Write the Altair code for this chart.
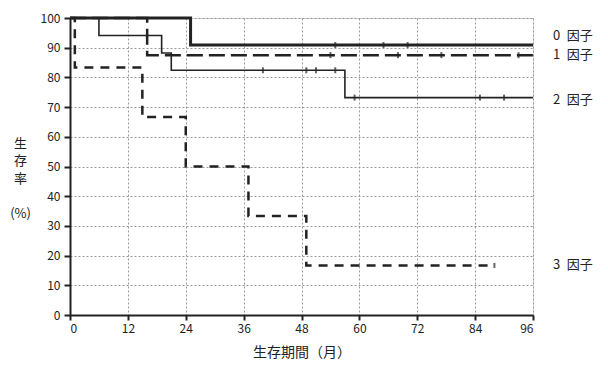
import altair as alt
import pandas as pd

# Kaplan-Meier step data (months, survival %)
t0 = [0, 25, 96];            s0 = [100, 90.9, 90.9]
t1 = [0, 16, 96];            s1 = [100, 87.5, 87.5]
t2 = [0, 6, 19, 21, 57, 96]; s2 = [100, 94.1, 88.2, 82.4, 73.2, 73.2]
t3 = [0, 1, 15, 24, 37, 49, 88]; s3 = [100, 83.3, 66.7, 50.0, 33.3, 16.7, 16.7]

# censor marks
c0_t = [55, 65, 70];          c0_s = [90.9, 90.9, 90.9]
c1_t = [54, 68, 77, 93];      c1_s = [87.5, 87.5, 87.5, 87.5]
c2_t = [40, 49, 51, 55, 59, 85, 90]; c2_s = [82.4, 82.4, 82.4, 82.4, 73.2, 73.2, 73.2]
c3_t = [88];                  c3_s = [16.7]

labels = ["0\u2002因子", "1\u2002因子", "2\u2002因子", "3\u2002因子"]
label_y = [94, 87.5, 72.5, 16.7]
y_title = ["生", "存", "率", "\u2800", "(%)"]

x_ticks = list(range(0, 97, 12))
y_ticks = list(range(0, 101, 10))

FONT = "Noto Sans CJK JP"
INK = "#222222"

xs = alt.Scale(domain=[0, 96], nice=False, zero=False)
ys = alt.Scale(domain=[0, 100], nice=False)

x_axis = alt.Axis(values=x_ticks, title="生存期間（月）", grid=True, gridColor="#999999",
                  gridDash=[2, 2], gridWidth=1, domainColor=INK, domainWidth=2,
                  tickColor=INK, tickWidth=2, tickSize=5, labelFont=FONT, labelFontSize=12,
                  labelColor=INK, labelPadding=3, labelOverlap=False, titleFont=FONT,
                  titleFontSize=14, titleFontWeight="normal", titleColor=INK, titlePadding=11)
y_axis = alt.Axis(values=y_ticks, title=y_title, grid=True,
                  gridColor="#999999", gridDash=[2, 2], gridWidth=1, domainColor=INK,
                  domainWidth=2, tickColor=INK, tickWidth=2, tickSize=6, labelFont=FONT,
                  labelFontSize=12, labelColor=INK, labelPadding=4, labelOverlap=False,
                  titleFont=FONT, titleFontSize=13, titleFontWeight="normal", titleColor=INK,
                  titleAngle=0, titleAlign="center", titleBaseline="top", titleX=-50,
                  titleY=119, titleLineHeight=17.5)


def step(ts, ss, width, dash=None):
    df = pd.DataFrame({"t": ts, "s": ss})
    kw = dict(interpolate="step-after", color=INK, strokeWidth=width)
    if dash:
        kw["strokeDash"] = dash
    return alt.Chart(df).mark_line(**kw).encode(
        x=alt.X("t:Q", scale=xs, axis=x_axis), y=alt.Y("s:Q", scale=ys, axis=y_axis))


def cens(ts, ss, size=6):
    df = pd.DataFrame({"t": ts, "s": ss})
    return alt.Chart(df).mark_tick(orient="vertical", color=INK, size=size, thickness=2).encode(
        x=alt.X("t:Q", scale=xs, axis=x_axis), y=alt.Y("s:Q", scale=ys, axis=y_axis))


lab_df = pd.DataFrame({"lab": labels, "y": label_y, "x": [96] * 4})
lab = alt.Chart(lab_df).mark_text(align="left", baseline="middle", dx=20, font=FONT,
                                   fontSize=13, color=INK).encode(
    x=alt.X("x:Q", scale=xs, axis=x_axis), y=alt.Y("y:Q", scale=ys, axis=y_axis),
    text="lab:N")

chart = alt.layer(
    step(t3, s3, 2.5, [9, 7]),
    step(t2, s2, 1.6),
    step(t1, s1, 2.5, [16, 6]),
    step(t0, s0, 3),
    cens(c0_t, c0_s), cens(c1_t, c1_s), cens(c2_t, c2_s), cens(c3_t, c3_s, 5),
    lab,
).properties(
    width=463, height=297,
    autosize=alt.AutoSizeParams(type="none"),
    padding={"left": 62, "top": 10, "right": 66, "bottom": 50},
).configure_view(stroke=None).configure(background="white")

chart.save("out.html", embed_options={"renderer": "svg", "actions": False})
